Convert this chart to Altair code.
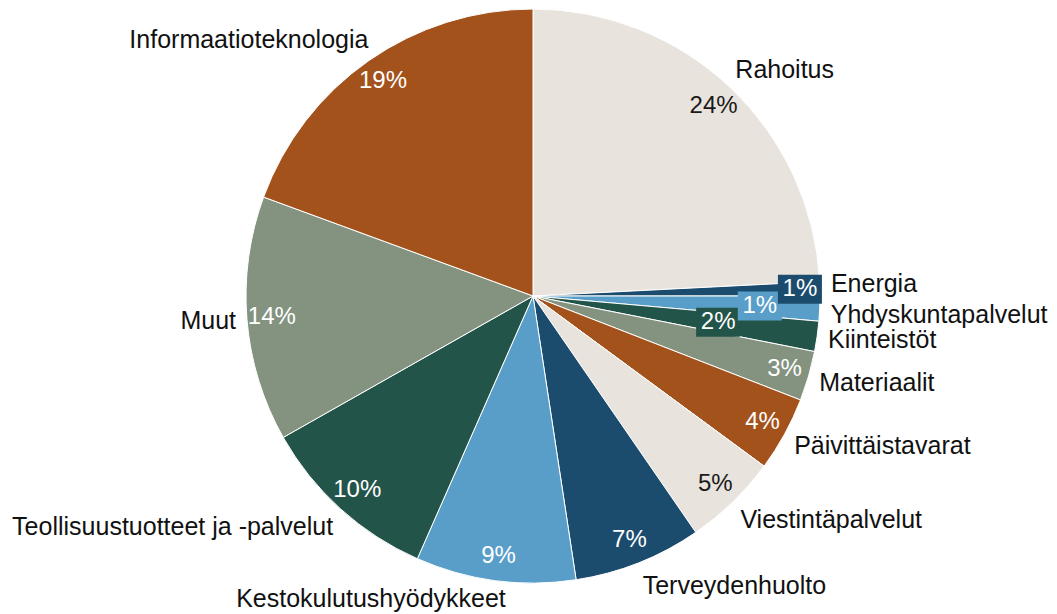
import altair as alt
import pandas as pd

# ---- data ----
categories = [
    "Rahoitus", "Energia", "Yhdyskuntapalvelut", "Kiinteistöt", "Materiaalit",
    "Päivittäistavarat", "Viestintäpalvelut", "Terveydenhuolto",
    "Kestokulutushyödykkeet", "Teollisuustuotteet ja -palvelut", "Muut",
    "Informaatioteknologia",
]
shares = [24.2, 0.8, 1.4, 1.7, 2.8, 4.2, 5.3, 7.2, 9.0, 10.2, 13.8, 19.4]

# ---- style / layout ----
BASE = ["#E8E3DD", "#1B4C6E", "#599EC8", "#23544A", "#839380", "#A4521C"]
palette = [BASE[i % len(BASE)] for i in range(len(categories))]
FONT = "Liberation Sans"
CX, CY, R = 525, 288, 287          # pie centre / radius in the view
RX, RY = 298, 312                   # name-label ellipse
PR_DEFAULT = 262                    # percentage label radius
PR_SPECIAL = {"Energia": 267, "Yhdyskuntapalvelut": 227, "Kiinteistöt": 187}
NUDGE_X = {"Kestokulutushyödykkeet": 12, "Informaatioteknologia": 6, "Rahoitus": -3}
NUDGE_Y = {"Energia": -4, "Yhdyskuntapalvelut": 5, "Kestokulutushyödykkeet": -6}
BOX_W, BOX_H = 22, 14.5


def lookup_expr(d, default):
    expr = str(default)
    for k, v in d.items():
        expr = f"(datum.category === '{k}' ? {v} : {expr})"
    return expr


df = pd.DataFrame({"category": categories, "value": shares,
                   "idx": list(range(len(categories)))})

color = alt.Color("category:N", legend=None,
                  scale=alt.Scale(domain=categories, range=palette))

base = (
    alt.Chart(df)
    .transform_window(cum="sum(value)", sort=[alt.SortField("idx")], frame=[None, 0])
    .transform_joinaggregate(total="sum(value)")
    .transform_calculate(mid="2*PI*(datum.cum - datum.value/2)/datum.total")
    .transform_calculate(
        nx=f"{CX} + {RX}*sin(datum.mid) + {lookup_expr(NUDGE_X, 0)}",
        ny=f"{CY} - {RY}*cos(datum.mid) + {lookup_expr(NUDGE_Y, 0)}",
        pr=lookup_expr(PR_SPECIAL, PR_DEFAULT),
        pct="format(datum.value/datum.total, '.0%')",
    )
    .transform_calculate(
        px=f"{CX} + datum.pr*sin(datum.mid)",
        py=f"{CY} - datum.pr*cos(datum.mid)",
    )
)

arcs = alt.Chart(df).mark_arc(outerRadius=R, stroke="white", strokeWidth=1).encode(
    theta=alt.Theta("value:Q", stack=True),
    order=alt.Order("idx:Q"),
    color=color,
    x=alt.value(CX),
    y=alt.value(CY),
)

special = list(PR_SPECIAL.keys())
boxes = (
    base.transform_filter(alt.FieldOneOfPredicate(field="category", oneOf=special))
    .transform_calculate(
        bx1=f"datum.px - {BOX_W}", bx2=f"datum.px + {BOX_W}",
        by1=f"datum.py - {BOX_H}", by2=f"datum.py + {BOX_H}",
    )
    .mark_rect()
    .encode(
        x=alt.X("bx1:Q", scale=None, axis=None), x2="bx2:Q",
        y=alt.Y("by1:Q", scale=None, axis=None), y2="by2:Q",
        color=color,
        order=alt.Order("idx:Q", sort="descending"),
    )
)

pct_text = base.mark_text(font=FONT, fontSize=24, align="center", baseline="middle").encode(
    x=alt.X("px:Q", scale=None, axis=None),
    y=alt.Y("py:Q", scale=None, axis=None),
    text="pct:N",
    color=alt.condition("datum.idx % 6 == 0", alt.value("#1a1a1a"), alt.value("white")),
)

names_right = (
    base.transform_filter("sin(datum.mid) >= 0")
    .mark_text(font=FONT, fontSize=25, align="left", baseline="middle", color="#111111")
    .encode(x=alt.X("nx:Q", scale=None, axis=None),
            y=alt.Y("ny:Q", scale=None, axis=None), text="category:N")
)
names_left = (
    base.transform_filter("sin(datum.mid) < 0")
    .mark_text(font=FONT, fontSize=25, align="right", baseline="middle", color="#111111")
    .encode(x=alt.X("nx:Q", scale=None, axis=None),
            y=alt.Y("ny:Q", scale=None, axis=None), text="category:N")
)

chart = (
    alt.layer(arcs, boxes, pct_text, names_right, names_left)
    .properties(width=1041, height=606, autosize=alt.AutoSizeParams(type="none"), padding=0)
    .configure_view(stroke=None)
)

chart.save("out.html", embed_options={"renderer": "svg", "actions": False})
